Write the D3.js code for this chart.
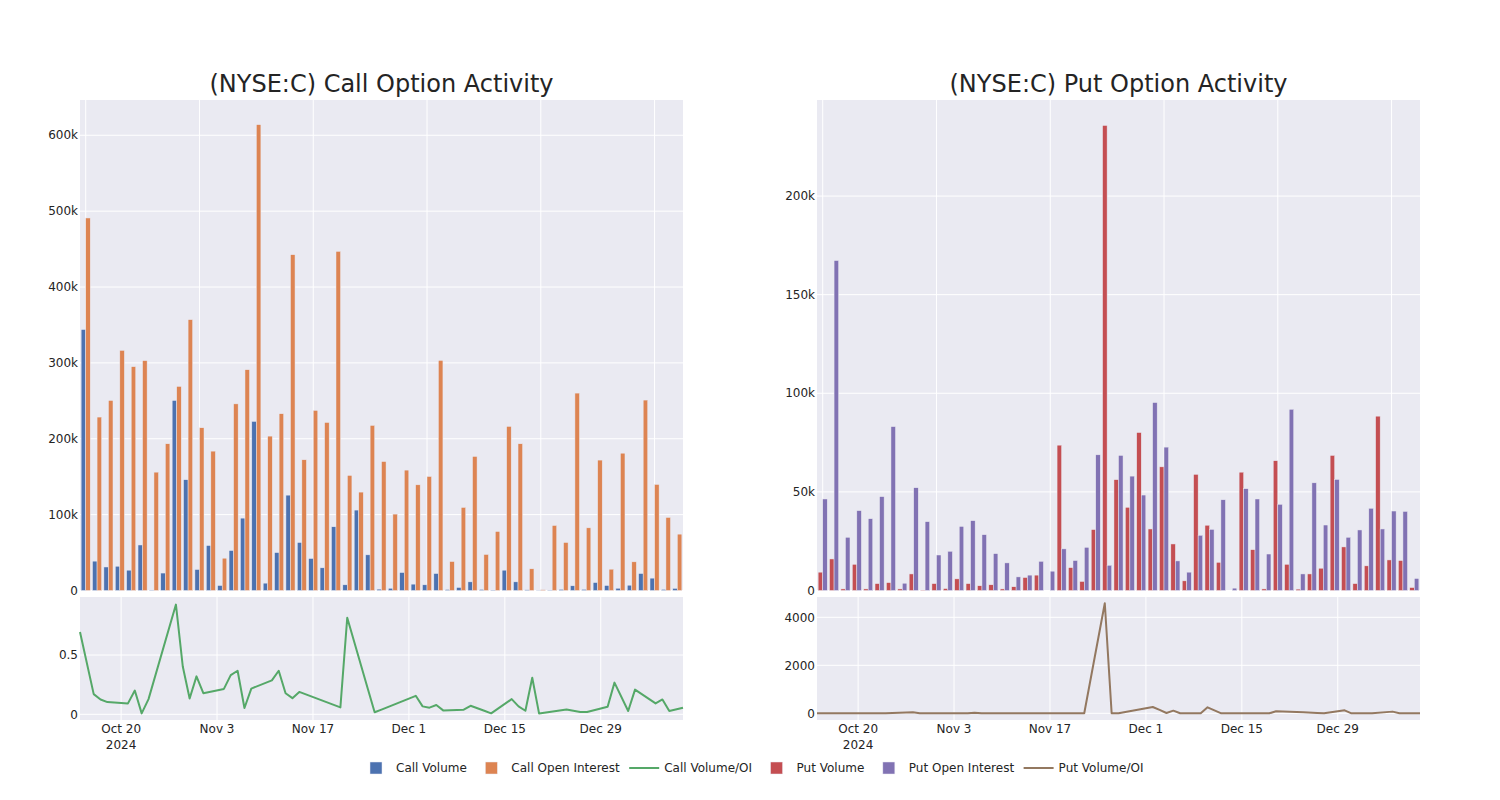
<!DOCTYPE html>
<html><head><meta charset="utf-8">
<script src="https://cdn.jsdelivr.net/npm/d3@7"></script>
<style>
body{margin:0;background:#fff;}
text{font-family:"DejaVu Sans",sans-serif;fill:rgb(36,36,36);}
</style>
</head><body><svg id="chart" width="1500" height="800"></svg>
<script>
const dates = ["2024-10-14","2024-10-16","2024-10-17","2024-10-18","2024-10-21","2024-10-22","2024-10-23","2024-10-24","2024-10-28","2024-10-29","2024-10-30","2024-10-31","2024-11-01","2024-11-04","2024-11-05","2024-11-06","2024-11-07","2024-11-08","2024-11-11","2024-11-12","2024-11-13","2024-11-14","2024-11-15","2024-11-21","2024-11-22","2024-11-25","2024-11-26","2024-11-27","2024-12-02","2024-12-03","2024-12-04","2024-12-05","2024-12-06","2024-12-09","2024-12-10","2024-12-12","2024-12-13","2024-12-16","2024-12-17","2024-12-18","2024-12-19","2024-12-20","2024-12-24","2024-12-26","2024-12-27","2024-12-30","2024-12-31","2025-01-02","2025-01-03","2025-01-06","2025-01-07","2025-01-08","2025-01-10"];

const callVolume = [344000,38700,31000,32000,26800,60000,500,23000,250500,146000,27700,59300,6600,52700,95400,222900,9700,50000,125700,63300,42200,29900,84000,7500,106000,47000,1800,3000,23700,8400,7500,22400,1300,4000,11400,1400,600,26800,11400,900,300,500,1500,6200,1500,10500,6600,3000,7000,22400,16300,1500,2800];
const callOpenInterest = [491000,228600,250500,316500,295000,303000,156000,193400,269000,357000,214500,183700,42600,246000,291000,614000,203500,233000,442600,172300,237400,221500,447000,151700,129700,217600,170000,100700,158700,139300,150300,303300,38200,109500,176700,47500,77800,216300,193400,28600,1000,85700,63300,260200,82600,171900,28100,181000,37800,251000,139800,96300,74300];
const callVolOI = [0.694,0.17,0.125,0.103,0.092,0.2,0.008,0.128,0.925,0.403,0.133,0.32,0.178,0.214,0.33,0.367,0.053,0.217,0.286,0.367,0.178,0.136,0.189,0.058,0.814,0.216,0.017,0.04,0.156,0.067,0.056,0.078,0.033,0.039,0.072,0.03,0.008,0.128,0.067,0.03,0.308,0.006,0.04,0.02,0.02,0.064,0.267,0.028,0.208,0.092,0.125,0.028,0.056];

const putVolume = [9300,16000,800,13300,800,3500,4000,800,8400,200,3500,1000,5900,3500,2400,2900,800,1900,6600,7800,0,73700,11600,4600,30900,235800,56200,42200,80100,31200,62700,23600,4900,58900,33100,14300,0,60000,20700,800,65800,13300,700,8400,11300,68500,22100,3500,12500,88400,15500,15200,1500];
const putOpenInterest = [46400,167300,27000,40500,36400,47600,83100,3700,52100,34900,18000,19900,32500,35400,28300,18700,14000,6900,7800,14800,9800,21100,15200,21900,68800,12800,68500,58000,48400,95300,72700,15000,9300,28000,31000,46000,1200,51600,46400,18500,43700,91900,8400,54600,33200,56300,27000,30700,41700,31200,40300,40100,6100];
const putVolOI = [0,0,0,0,0,0,0,0,42,0,0,0,0,0,0,28,0,0,0,0,0,0,0,0,0,4584,0,0,264,140,14,111,0,0,250,0,0,0,0,0,0,83,45,15,0,125,0,0,0,70,0,0,0];

const callBarTicks = [0,100000,200000,300000,400000,500000,600000];
const putBarTicks = [0,50000,100000,150000,200000];
const callRatioTicks = [0,0.5];
const putRatioTicks = [0,2000,4000];
const dateTicks = ["2024-10-20","2024-11-03","2024-11-17","2024-12-01","2024-12-15","2024-12-29"];

const parse = d3.timeParse("%Y-%m-%d");
const D = dates.map(parse);
const svg = d3.select("#chart");
svg.append("rect").attr("width",1500).attr("height",800).attr("fill","#fff");

const BG = "rgb(234,234,242)";
const TOP = [590.5, 100], BOT = [720, 597];

function panel(o){
  const g = svg.append("g");
  // backgrounds
  g.append("rect").attr("x",o.x0).attr("y",TOP[1]).attr("width",o.x1-o.x0).attr("height",TOP[0]-TOP[1]).attr("fill",BG);
  g.append("rect").attr("x",o.x0).attr("y",BOT[1]).attr("width",o.x1-o.x0).attr("height",BOT[0]-BOT[1]).attr("fill",BG);

  // --- top bars ---
  const xb = d3.scaleBand().domain(dates).range([o.x0,o.x1]).paddingInner(0.2).paddingOuter(0.1);
  const xs = d3.scaleBand().domain(["v","o"]).range([0,xb.bandwidth()]);
  const yb = d3.scaleLinear().domain([0,o.barMax]).range(TOP);
  // gridlines
  g.selectAll(null).data(o.barTicks).join("line")
    .attr("x1",o.x0).attr("x2",o.x1).attr("y1",d=>yb(d)).attr("y2",d=>yb(d))
    .attr("stroke","#fff").attr("stroke-width",1);
  g.selectAll(null).data(dates.filter((d,i)=>i%10===0)).join("line")
    .attr("x1",d=>xb(d)+xb.bandwidth()/2).attr("x2",d=>xb(d)+xb.bandwidth()/2)
    .attr("y1",TOP[1]).attr("y2",TOP[0]).attr("stroke","#fff").attr("stroke-width",1);
  const fmtK = d3.format("~s");
  g.selectAll(null).data(o.barTicks).join("text")
    .attr("x",o.x0-2).attr("y",d=>yb(d)).attr("dy","0.35em").attr("text-anchor","end")
    .attr("font-size",12).text(d=>fmtK(d));
  const series = [["v",o.vol,o.volColor],["o",o.oi,o.oiColor]];
  series.forEach(([k,arr,col])=>{
    g.selectAll(null).data(arr).join("rect")
      .attr("x",(d,i)=>xb(dates[i])+xs(k))
      .attr("width",xs.bandwidth())
      .attr("y",d=>yb(d))
      .attr("height",d=>Math.max(0,yb(0)-yb(d)))
      .attr("fill",col).attr("stroke",BG).attr("stroke-width",0.5);
  });

  // --- bottom ratio line ---
  const xt = d3.scaleTime().domain([D[0],D[D.length-1]]).range([o.x0,o.x1]);
  const yr = d3.scaleLinear().domain(o.ratioDomain).range(BOT);
  const tickD = dateTicks.map(parse);
  g.selectAll(null).data(o.ratioTicks).join("line")
    .attr("x1",o.x0).attr("x2",o.x1).attr("y1",d=>yr(d)).attr("y2",d=>yr(d))
    .attr("stroke","#fff").attr("stroke-width",1);
  g.selectAll(null).data(tickD).join("line")
    .attr("x1",d=>xt(d)).attr("x2",d=>xt(d)).attr("y1",BOT[1]).attr("y2",BOT[0])
    .attr("stroke","#fff").attr("stroke-width",1);
  g.selectAll(null).data(o.ratioTicks).join("text")
    .attr("x",o.x0-2).attr("y",d=>yr(d)).attr("dy","0.35em").attr("text-anchor","end")
    .attr("font-size",12).text(d=>o.ratioFmt(d));
  const fmtD = d3.timeFormat("%b %-d");
  const tl = g.selectAll(null).data(tickD).join("text")
    .attr("x",d=>xt(d)).attr("y",733).attr("text-anchor","middle").attr("font-size",12)
    .text(d=>fmtD(d));
  g.append("text").attr("x",xt(tickD[0])).attr("y",749).attr("text-anchor","middle")
    .attr("font-size",12).text("2024");
  const line = d3.line().x((d,i)=>xt(D[i])).y(d=>yr(d));
  g.append("path").datum(o.ratio).attr("d",line).attr("fill","none")
    .attr("stroke",o.ratioColor).attr("stroke-width",2).attr("stroke-linejoin","round");

  // title
  g.append("text").attr("x",(o.x0+o.x1)/2).attr("y",92).attr("text-anchor","middle")
    .attr("font-size",24).text(o.title);
}

panel({x0:80,x1:683,title:"(NYSE:C) Call Option Activity",vol:callVolume,oi:callOpenInterest,ratio:callVolOI,
  volColor:"#4C72B0",oiColor:"#DD8452",ratioColor:"#55A868",barMax:646500,barTicks:callBarTicks,
  ratioDomain:[-0.048,0.989],ratioTicks:callRatioTicks,ratioFmt:d3.format("~g")});
panel({x0:817,x1:1420,title:"(NYSE:C) Put Option Activity",vol:putVolume,oi:putOpenInterest,ratio:putVolOI,
  volColor:"#C44E52",oiColor:"#8172B3",ratioColor:"#937860",barMax:248700,barTicks:putBarTicks,
  ratioDomain:[-279,4846],ratioTicks:putRatioTicks,ratioFmt:d3.format("d")});

// legend
const legendItems = [
  {name:"Call Volume",type:"bar",color:"#4C72B0"},
  {name:"Call Open Interest",type:"bar",color:"#DD8452"},
  {name:"Call Volume/OI",type:"line",color:"#55A868"},
  {name:"Put Volume",type:"bar",color:"#C44E52"},
  {name:"Put Open Interest",type:"bar",color:"#8172B3"},
  {name:"Put Volume/OI",type:"line",color:"#937860"}
];
const lg = svg.append("g");
let lx = 356; const ly = 768;
legendItems.forEach(it=>{
  if(it.type==="bar"){
    lg.append("rect").attr("x",lx+14).attr("y",ly-6).attr("width",12).attr("height",12)
      .attr("fill",it.color).attr("stroke",BG).attr("stroke-width",0.5);
  } else {
    lg.append("line").attr("x1",lx+5).attr("x2",lx+35).attr("y1",ly).attr("y2",ly)
      .attr("stroke",it.color).attr("stroke-width",2);
  }
  const t = lg.append("text").attr("x",lx+40).attr("y",ly).attr("dy","0.35em").attr("font-size",12).text(it.name);
  lx += 40 + t.node().getComputedTextLength() + 4.5;
});
</script>
</body></html>
